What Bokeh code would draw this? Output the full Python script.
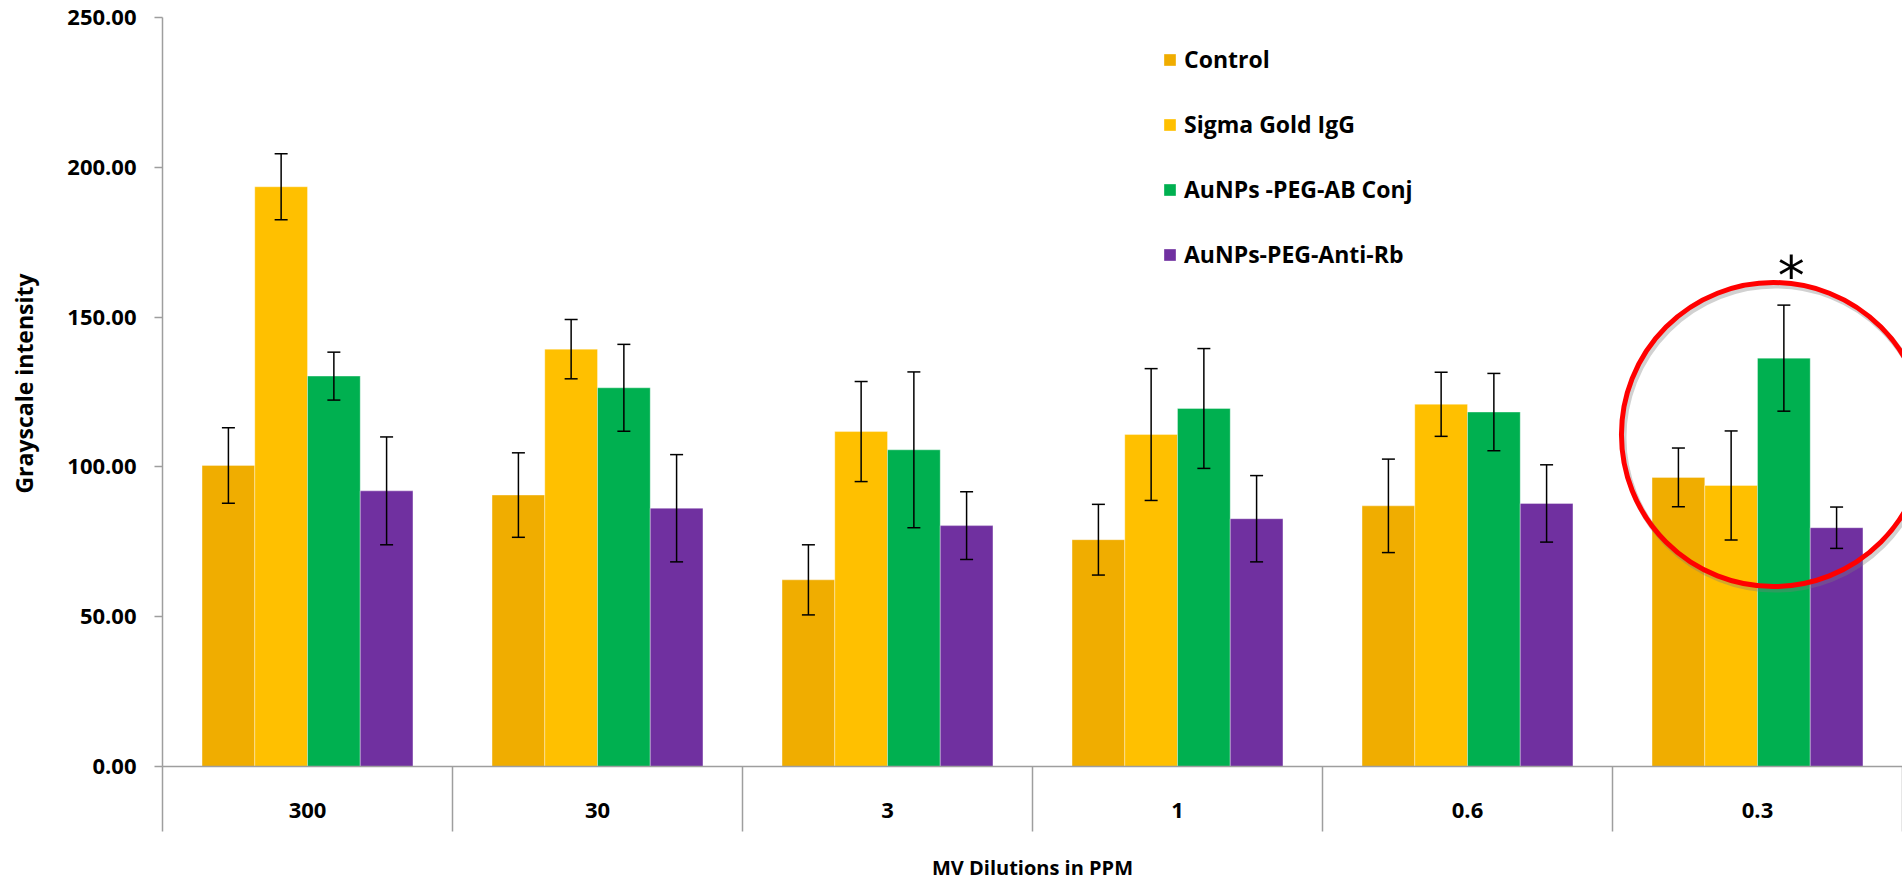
from bokeh.plotting import figure
from bokeh.models import (ColumnDataSource, Range1d, LinearAxis, FixedTicker, NumeralTickFormatter,
                          Whisker, TeeHead, Legend, LegendItem, Label)
from bokeh.transform import dodge
from bokeh.embed import file_html
from bokeh.resources import INLINE

# ---------------- data ----------------
categories = ["300", "30", "3", "1", "0.6", "0.3"]
series_names = ["Control", "Sigma Gold IgG", "AuNPs -PEG-AB Conj", "AuNPs-PEG-Anti-Rb"]

control = [100.5, 90.6, 62.3, 75.7, 87.0, 96.5]
control_err = [12.6, 14.1, 11.7, 11.8, 15.6, 9.8]
sigma = [193.5, 139.3, 111.8, 110.8, 120.9, 93.8]
sigma_err = [11.0, 9.9, 16.7, 22.0, 10.7, 18.2]
conj = [130.3, 126.4, 105.7, 119.5, 118.3, 136.3]
conj_err = [8.0, 14.5, 26.0, 20.0, 12.9, 17.7]
antirb = [92.0, 86.2, 80.4, 82.7, 87.8, 79.7]
antirb_err = [18.0, 17.9, 11.3, 14.4, 12.9, 6.9]

y_ticks = [0, 50, 100, 150, 200, 250]
highlight_category = "0.3"
highlight_mark = "*"

# ---------------- styling ----------------
colors = ["#F0AD00", "#FFC000", "#00B050", "#7030A0"]
FONT = "Open Sans"
AXIS_COLOR = "#9E9E9E"

W, H = 1902, 883
FRAME_LEFT = 162
FRAME_BOTTOM_PAD = 117
PX_PER_CAT = 290.0
frame_w = W - FRAME_LEFT
frame_h = H - FRAME_BOTTOM_PAD

x_end = frame_w / PX_PER_CAT
y_end = frame_h / 2.996

centers = [i + 0.5 for i in range(len(categories))]
bar_w = 2.0 / 11.0
offsets = [-1.5 * bar_w, -0.5 * bar_w, 0.5 * bar_w, 1.5 * bar_w]

values = [control, sigma, conj, antirb]
errors = [control_err, sigma_err, conj_err, antirb_err]

p = figure(width=W, height=H, output_backend="svg", toolbar_location=None,
           x_axis_type=None, y_axis_type=None,
           x_range=Range1d(0, x_end), y_range=Range1d(0, y_end),
           min_border_left=FRAME_LEFT, min_border_right=0, min_border_top=0,
           min_border_bottom=FRAME_BOTTOM_PAD)
p.outline_line_color = None
p.background_fill_color = "white"
p.border_fill_color = "white"

# y axis
yaxis = LinearAxis(ticker=FixedTicker(ticks=y_ticks, minor_ticks=[]),
                   formatter=NumeralTickFormatter(format="0.00"),
                   bounds=(0, 250))
yaxis.axis_line_color = AXIS_COLOR
yaxis.axis_line_width = 1.5
yaxis.major_tick_line_color = AXIS_COLOR
yaxis.major_tick_line_width = 1.5
yaxis.major_tick_in = 0
yaxis.major_tick_out = 8
yaxis.minor_tick_line_color = None
yaxis.minor_tick_out = 0
yaxis.minor_tick_in = 0
yaxis.major_label_standoff = 18
yaxis.major_label_text_font = FONT
yaxis.major_label_text_font_style = "bold"
yaxis.major_label_text_font_size = "22px"
yaxis.major_label_text_color = "black"
yaxis.axis_label = "Grayscale intensity"
yaxis.axis_label_text_font = FONT
yaxis.axis_label_text_font_style = "bold"
yaxis.axis_label_text_font_size = "23px"
yaxis.axis_label_text_color = "black"
yaxis.axis_label_standoff = 24
p.add_layout(yaxis, "left")

# x axis (category labels between divider ticks)
xaxis = LinearAxis(ticker=FixedTicker(ticks=centers, minor_ticks=list(range(len(categories) + 1))))
xaxis.major_label_overrides = {c: lab for c, lab in zip(centers, categories)}
xaxis.axis_line_color = AXIS_COLOR
xaxis.axis_line_width = 1.5
xaxis.major_tick_line_color = None
xaxis.major_tick_in = 0
xaxis.major_tick_out = 0
xaxis.minor_tick_line_color = AXIS_COLOR
xaxis.minor_tick_line_width = 1.5
xaxis.minor_tick_in = 0
xaxis.minor_tick_out = 65
xaxis.major_label_standoff = -29
xaxis.major_label_text_font = FONT
xaxis.major_label_text_font_style = "bold"
xaxis.major_label_text_font_size = "22px"
xaxis.major_label_text_color = "black"
xaxis.axis_label = "MV Dilutions in PPM"
xaxis.axis_label_text_font = FONT
xaxis.axis_label_text_font_style = "bold"
xaxis.axis_label_text_font_size = "20px"
xaxis.axis_label_text_color = "black"
xaxis.axis_label_standoff = 33
p.add_layout(xaxis, "below")

# bars + error bars
legend_items = []
for name, vals, errs, off, col in zip(series_names, values, errors, offsets, colors):
    src = ColumnDataSource(dict(
        x=centers, cat=categories, top=vals,
        upper=[v + e for v, e in zip(vals, errs)],
        lower=[v - e for v, e in zip(vals, errs)],
    ))
    r = p.vbar(x=dodge("x", off), top="top", width=bar_w, bottom=0, source=src,
               fill_color=col, line_color="white", line_alpha=0.35, line_width=1)
    legend_items.append(LegendItem(label=name, renderers=[r]))
    wk = Whisker(source=src, base=dodge("x", off), upper="upper", lower="lower",
                 line_color="black", line_width=1.5, level="annotation",
                 upper_head=TeeHead(size=13, line_color="black", line_width=1.5),
                 lower_head=TeeHead(size=13, line_color="black", line_width=1.5))
    p.add_layout(wk)

# highlight circle around the last group
hi_idx = categories.index(highlight_category)
hx = centers[hi_idx] + 0.055
hy = 110.8
p.ellipse(x=[hx + 0.007], y=[hy - 1.0], width=304, height=304,
          width_units="screen", height_units="screen",
          fill_color=None, line_color="#7A7A7A", line_alpha=0.35, line_width=6)
p.ellipse(x=[hx], y=[hy], width=304, height=304,
          width_units="screen", height_units="screen",
          fill_color=None, line_color="#FF0000", line_width=5)

star = Label(x=centers[hi_idx] + 0.116, y=163.8, text=highlight_mark,
             text_font="DejaVu Sans", text_font_size="54px", text_color="black",
             text_align="center", text_baseline="alphabetic")
p.add_layout(star)

legend = Legend(items=legend_items, location=(1000, 496), orientation="vertical",
                glyph_width=15, glyph_height=15, label_height=30, label_standoff=7,
                spacing=33, padding=0, margin=0,
                border_line_color=None, background_fill_alpha=0,
                label_text_font=FONT, label_text_font_style="bold",
                label_text_font_size="23px", label_text_color="black")
p.add_layout(legend)

open("out.html", "w").write(file_html(p, INLINE))
